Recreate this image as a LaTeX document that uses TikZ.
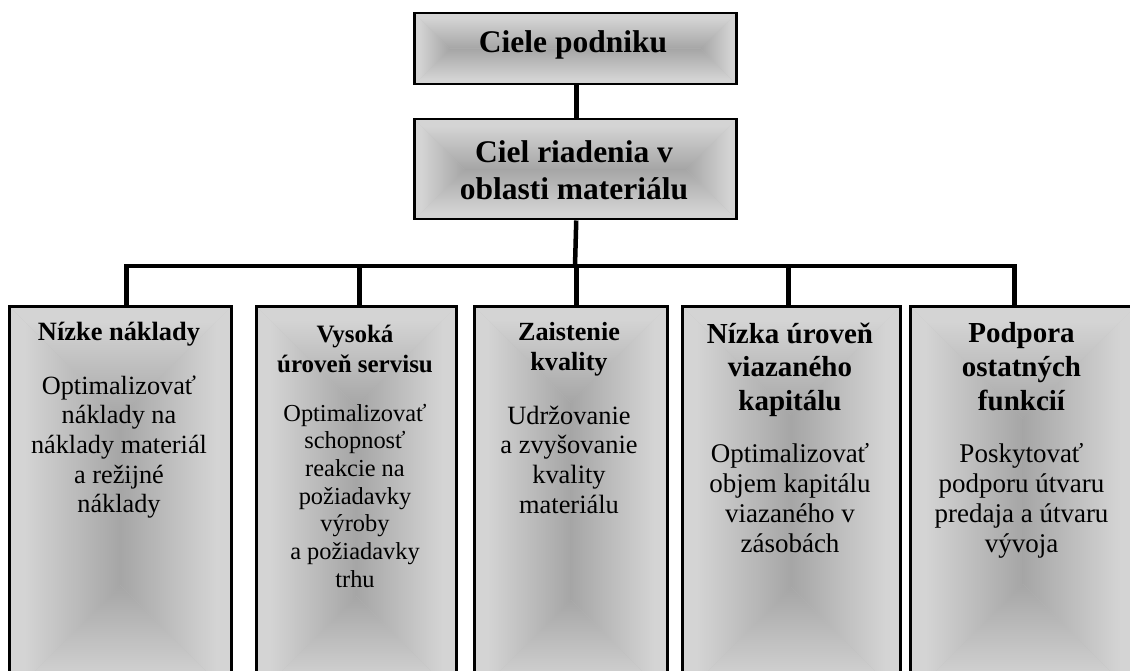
\documentclass[tikz,border=0pt]{standalone}
\usepackage{fontspec}
\setmainfont{Liberation Serif}
\usetikzlibrary{calc}

\definecolor{boxlight}{gray}{0.83}
\definecolor{boxdark}{gray}{0.65}

% edge-to-centre gradients: light plateau at the border, darker towards the middle
\pgfdeclarehorizontalshading{fadeleft}{100bp}{color(0bp)=(boxlight); color(32bp)=(boxlight); color(75bp)=(boxdark); color(100bp)=(boxdark)}
\pgfdeclarehorizontalshading{faderight}{100bp}{color(0bp)=(boxdark); color(25bp)=(boxdark); color(68bp)=(boxlight); color(100bp)=(boxlight)}
\pgfdeclareverticalshading{fadebottom}{100bp}{color(0bp)=(boxlight); color(32bp)=(boxlight); color(75bp)=(boxdark); color(100bp)=(boxdark)}
\pgfdeclareverticalshading{fadetop}{100bp}{color(0bp)=(boxdark); color(25bp)=(boxdark); color(68bp)=(boxlight); color(100bp)=(boxlight)}

\tikzset{
  goalbox/.style={draw=black, line width=2.5pt, fill=boxdark!45!boxlight,
    inner sep=0pt, anchor=north west,
    path picture={
      \path let \p1=(path picture bounding box.south west),
                \p2=(path picture bounding box.north east),
                \n1={min(\x2-\x1,\y2-\y1)/2} in
        coordinate (ppsw) at (\x1,\y1)
        coordinate (ppne) at (\x2,\y2)
        coordinate (ppisw) at (\x1+\n1,\y1+\n1)
        coordinate (ppine) at (\x2-\n1,\y2-\n1);
      \shade[shading=fadetop] (ppsw |- ppne) -- (ppne) -- (ppine) -- (ppisw |- ppine) -- cycle;
      \shade[shading=fadebottom] (ppsw) -- (ppne |- ppsw) -- (ppine |- ppisw) -- (ppisw) -- cycle;
      \shade[shading=fadeleft] (ppsw) -- (ppsw |- ppne) -- (ppisw |- ppine) -- (ppisw) -- cycle;
      \shade[shading=faderight] (ppne |- ppsw) -- (ppne) -- (ppine) -- (ppine |- ppisw) -- cycle;
    }},
  % the base anchor of a multi-line label sits on its last line
  label/.style={anchor=base, align=center, inner sep=0pt, text=black},
  link/.style={draw=black, line width=4.5pt, line join=miter}
}

\begin{document}
\begin{tikzpicture}[x=1pt, y=-1pt]
  \useasboundingbox (0,0) rectangle (1130,671);
  \fill[white] (0,0) rectangle (1130,671);
  \clip (0,0) rectangle (1130,671);

  % boxes
  \node[goalbox, minimum width=322pt, minimum height=71pt] (top) at (413,12) {};
  \node[goalbox, minimum width=322pt, minimum height=100pt] (mid) at (413,118) {};
  \node[goalbox, minimum width=222pt, minimum height=390pt] (b1) at (8,305) {};
  \node[goalbox, minimum width=200pt, minimum height=390pt] (b2) at (255,305) {};
  \node[goalbox, minimum width=193pt, minimum height=390pt] (b3) at (473,305) {};
  \node[goalbox, minimum width=218pt, minimum height=390pt] (b4) at (681,305) {};
  \node[goalbox, minimum width=225pt, minimum height=390pt] (b5) at (909,305) {};

  % connectors
  \coordinate (hub) at (575,266);
  \draw[link] ([xshift=1pt]top.south) -- ([xshift=1pt]mid.north);
  \draw[link] ([xshift=1pt]mid.south) -- (hub);
  \draw[link] ([xshift=6pt]b1.north) |- (hub) -| ([xshift=-8.5pt]b5.north);
  \draw[link] ([xshift=3pt]b2.north) -- ([xshift=3pt]b2.north |- hub);
  \draw[link] ([xshift=5.5pt]b3.north) -- ([xshift=5.5pt]b3.north |- hub);
  \draw[link] ([xshift=-3pt]b4.north) -- ([xshift=-3pt]b4.north |- hub);

  % texts (positions are the baselines of the last lines)
  \node[label, font=\bfseries\fontsize{31.5}{37}\selectfont] (t0) at (573,53) {Ciele podniku};
  \node[label, font=\bfseries\fontsize{31.5}{37}\selectfont] (t1) at (574,200) {Ciel riadenia v\\oblasti materiálu};

  \node[label, font=\bfseries\fontsize{26.4}{30}\selectfont] (h1) at (119,340) {Nízke náklady};
  \node[label, font=\fontsize{26.3}{29.7}\selectfont] (d1) at (119,512.8)
    {Optimalizovať\\náklady na\\náklady materiál\\a režijné\\náklady};

  \node[label, font=\bfseries\fontsize{25}{30}\selectfont] (h2) at (355,372) {Vysoká\\úroveň servisu};
  \node[label, font=\fontsize{24.4}{27.7}\selectfont] (d2) at (355,587.2)
    {Optimalizovať\\schopnosť\\reakcie na\\požiadavky\\výroby\\a požiadavky\\trhu};

  \node[label, font=\bfseries\fontsize{26.2}{30}\selectfont] (h3) at (569,370) {Zaistenie\\kvality};
  \node[label, font=\fontsize{26.4}{29.7}\selectfont] (d3) at (569,513.1)
    {Udržovanie\\a zvyšovanie\\kvality\\materiálu};

  \node[label, font=\bfseries\fontsize{29}{33.5}\selectfont] (h4) at (790,410) {Nízka úroveň\\viazaného\\kapitálu};
  \node[label, font=\fontsize{27}{30.3}\selectfont] (d4) at (790,552.9)
    {Optimalizovať\\objem kapitálu\\viazaného v\\zásobách};

  \node[label, font=\bfseries\fontsize{29}{34}\selectfont] (h5) at (1021.5,410) {Podpora\\ostatných\\funkcií};
  \node[label, font=\fontsize{27}{30.3}\selectfont] (d5) at (1021.5,552.9)
    {Poskytovať\\podporu útvaru\\predaja a útvaru\\vývoja};
\end{tikzpicture}
\end{document}
